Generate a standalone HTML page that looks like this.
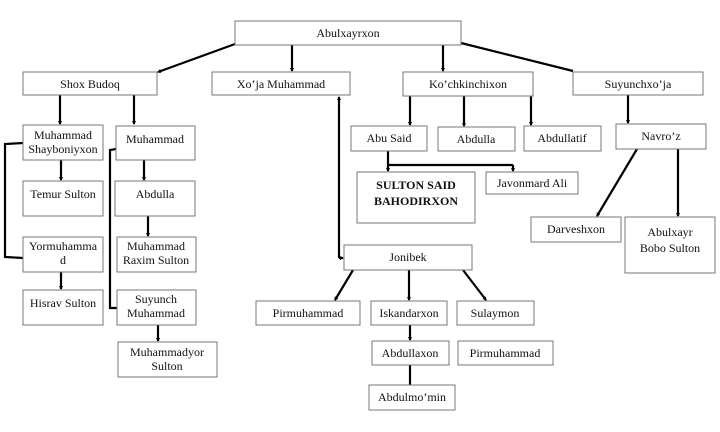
<!DOCTYPE html>
<html><head><meta charset="utf-8"><style>
html,body{margin:0;padding:0;background:#fff}
svg{display:block}
text{font-family:"Liberation Serif",serif;font-size:12px;fill:#111}
.b{fill:#fff;stroke:#777;stroke-width:1}
.l{stroke:#000;stroke-width:2.2;fill:none}
</style></head><body>
<svg width="720" height="432" viewBox="0 0 720 432" xmlns="http://www.w3.org/2000/svg">
<defs><marker id="a" markerWidth="4" markerHeight="4" refX="3" refY="2" orient="auto" markerUnits="userSpaceOnUse"><path d="M0,0 L4,2 L0,4z" fill="#000"/></marker></defs>
<g class="l">
<line x1="235" y1="44" x2="158" y2="72" marker-end="url(#a)"/>
<line x1="292" y1="45" x2="292" y2="71" marker-end="url(#a)"/>
<line x1="443" y1="45" x2="443" y2="71" marker-end="url(#a)"/>
<line x1="461" y1="43" x2="573" y2="71"/>
<line x1="60" y1="95" x2="60" y2="124" marker-end="url(#a)"/>
<line x1="134" y1="95" x2="134" y2="124" marker-end="url(#a)"/>
<polyline points="23,143 5,144 5,257 23,258"/>
<polyline points="116,149 110,150 110,308 117,308"/>
<line x1="61" y1="160" x2="61" y2="180" marker-end="url(#a)"/>
<line x1="61" y1="272" x2="61" y2="289" marker-end="url(#a)"/>
<line x1="144" y1="160" x2="144" y2="180" marker-end="url(#a)"/>
<line x1="148" y1="216" x2="148" y2="236" marker-end="url(#a)"/>
<line x1="158" y1="325" x2="158" y2="341" marker-end="url(#a)"/>
<line x1="339" y1="258" x2="339" y2="97" marker-end="url(#a)"/>
<line x1="339" y1="258" x2="343" y2="258" marker-end="url(#a)"/>
<line x1="410" y1="96" x2="410" y2="125" marker-end="url(#a)"/>
<line x1="464" y1="96" x2="464" y2="126" marker-end="url(#a)"/>
<line x1="531" y1="96" x2="531" y2="125" marker-end="url(#a)"/>
<polyline points="388,151 388,165 513,165"/>
<line x1="388" y1="165" x2="388" y2="171" marker-end="url(#a)"/>
<line x1="513" y1="165" x2="513" y2="171" marker-end="url(#a)"/>
<line x1="628" y1="95" x2="628" y2="123" marker-end="url(#a)"/>
<line x1="637" y1="149" x2="597" y2="216" marker-end="url(#a)"/>
<line x1="678" y1="149" x2="678" y2="216" marker-end="url(#a)"/>
<line x1="353" y1="270" x2="335" y2="300" marker-end="url(#a)"/>
<line x1="409" y1="270" x2="409" y2="300" marker-end="url(#a)"/>
<line x1="463" y1="270" x2="486" y2="300" marker-end="url(#a)"/>
<line x1="410" y1="325" x2="410" y2="340" marker-end="url(#a)"/>
<line x1="410" y1="365" x2="410" y2="385"/>
</g>
<rect class="b" x="235" y="21" width="226" height="24"/><text x="348" y="37" text-anchor="middle">Abulxayrxon</text>
<rect class="b" x="23" y="72" width="134" height="23"/><text x="90" y="88" text-anchor="middle">Shox Budoq</text>
<rect class="b" x="212" y="72" width="138" height="23"/><text x="281" y="88" text-anchor="middle">Xo’ja Muhammad</text>
<rect class="b" x="403" y="72" width="130" height="24"/><text x="468" y="88" text-anchor="middle">Ko’chkinchixon</text>
<rect class="b" x="573" y="72" width="130" height="23"/><text x="638" y="88" text-anchor="middle">Suyunchxo’ja</text>
<rect class="b" x="23" y="125" width="80" height="35"/><text x="63" y="139" text-anchor="middle" font-size="10">Muhammad</text><text x="63" y="153" text-anchor="middle" font-size="10">Shayboniyxon</text>
<rect class="b" x="116" y="126" width="79" height="34"/><text x="155" y="143" text-anchor="middle" font-size="10">Muhammad</text>
<rect class="b" x="23" y="181" width="80" height="35"/><text x="63" y="198" text-anchor="middle" font-size="10">Temur Sulton</text>
<rect class="b" x="115" y="181" width="80" height="35"/><text x="155" y="198" text-anchor="middle" font-size="10">Abdulla</text>
<rect class="b" x="23" y="237" width="80" height="35"/><text x="63" y="250" text-anchor="middle" font-size="10">Yormuhamma</text><text x="63" y="264" text-anchor="middle" font-size="10">d</text>
<rect class="b" x="117" y="237" width="79" height="35"/><text x="156" y="250" text-anchor="middle" font-size="10">Muhammad</text><text x="156" y="264" text-anchor="middle" font-size="10">Raxim Sulton</text>
<rect class="b" x="23" y="290" width="80" height="35"/><text x="63" y="307" text-anchor="middle" font-size="10">Hisrav Sulton</text>
<rect class="b" x="117" y="290" width="79" height="35"/><text x="156" y="303" text-anchor="middle" font-size="10">Suyunch</text><text x="156" y="317" text-anchor="middle" font-size="10">Muhammad</text>
<rect class="b" x="118" y="342" width="99" height="35"/><text x="167" y="356" text-anchor="middle" font-size="10">Muhammadyor</text><text x="167" y="370" text-anchor="middle" font-size="10">Sulton</text>
<rect class="b" x="351" y="126" width="76" height="25"/><text x="389" y="142" text-anchor="middle">Abu Said</text>
<rect class="b" x="438" y="127" width="77" height="24"/><text x="476" y="143" text-anchor="middle">Abdulla</text>
<rect class="b" x="524" y="126" width="77" height="25"/><text x="562" y="142" text-anchor="middle">Abdullatif</text>
<rect class="b" x="616" y="124" width="90" height="25"/><text x="661" y="140" text-anchor="middle">Navro’z</text>
<rect class="b" x="357" y="172" width="118" height="51"/><text x="416" y="189" text-anchor="middle" font-weight="bold">SULTON SAID</text><text x="416" y="205" text-anchor="middle" font-weight="bold">BAHODIRXON</text>
<rect class="b" x="486" y="172" width="92" height="22"/><text x="532" y="187" text-anchor="middle">Javonmard Ali</text>
<rect class="b" x="531" y="217" width="90" height="25"/><text x="576" y="233" text-anchor="middle">Darveshxon</text>
<rect class="b" x="625" y="217" width="90" height="56"/><text x="670" y="236" text-anchor="middle">Abulxayr</text><text x="670" y="252" text-anchor="middle">Bobo Sulton</text>
<rect class="b" x="344" y="245" width="128" height="25"/><text x="408" y="261" text-anchor="middle">Jonibek</text>
<rect class="b" x="256" y="301" width="104" height="24"/><text x="308" y="317" text-anchor="middle">Pirmuhammad</text>
<rect class="b" x="371" y="301" width="76" height="24"/><text x="409" y="317" text-anchor="middle">Iskandarxon</text>
<rect class="b" x="457" y="301" width="77" height="24"/><text x="495" y="317" text-anchor="middle">Sulaymon</text>
<rect class="b" x="372" y="341" width="77" height="24"/><text x="410" y="357" text-anchor="middle">Abdullaxon</text>
<rect class="b" x="458" y="341" width="95" height="24"/><text x="505" y="357" text-anchor="middle">Pirmuhammad</text>
<rect class="b" x="369" y="385" width="86" height="25"/><text x="412" y="401" text-anchor="middle">Abdulmo’min</text>
</svg>
</body></html>
